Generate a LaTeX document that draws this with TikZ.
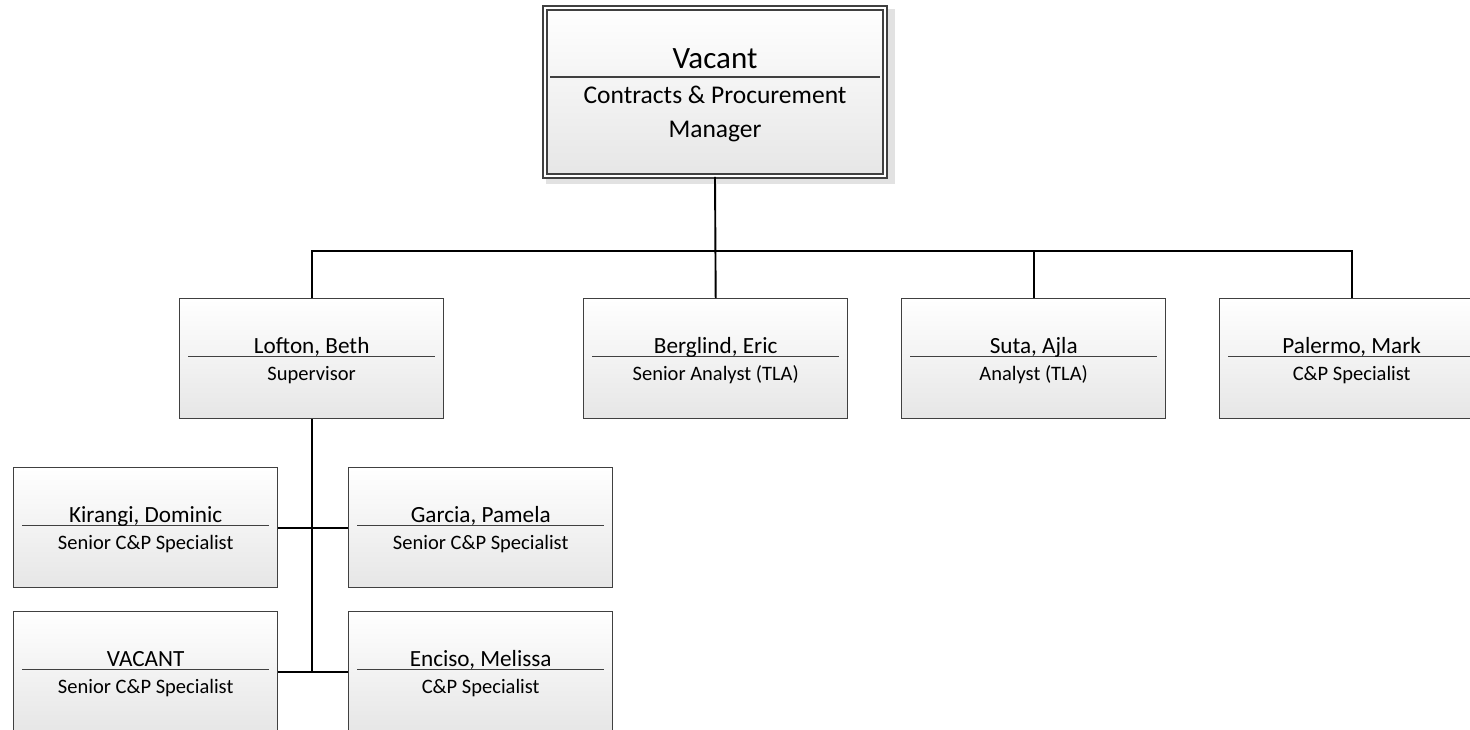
\documentclass[tikz,border=0pt]{standalone}
\usepackage{fontspec}
\setmainfont{Carlito}
\definecolor{boxline}{HTML}{404040}
\definecolor{boxbot}{HTML}{E6E6E6}
\definecolor{shadowc}{HTML}{E2E2E2}
\newcommand\orgperson[5]{%
  \node[orgbox] (#1) at (#2,#3) {};
  \draw[divider] ([xshift=9pt,yshift=2pt]#1.west) -- ([xshift=-9pt,yshift=2pt]#1.east);
  \node[pname] (#1-name) at ([yshift=5pt]#1.center) {#4};
  \node[prole] (#1-role) at ([yshift=-22pt]#1.center) {#5};
}
\begin{document}
\begin{tikzpicture}[x=1pt,y=-1pt,
  orgbox/.style={draw=boxline, line width=1.4pt, top color=white, bottom color=boxbot,
    minimum width=264pt, minimum height=120pt, inner sep=0pt, anchor=north west},
  conn/.style={line width=1.9pt, black},
  divider/.style={draw=boxline, line width=1.1pt},
  pname/.style={anchor=base, font=\fontsize{23.2}{25}\selectfont, inner sep=0pt},
  prole/.style={anchor=base, font=\fontsize{20.5}{22}\selectfont, inner sep=0pt},
  topname/.style={anchor=base, font=\fontsize{31}{33}\selectfont, inner sep=0pt},
  toprole/.style={anchor=base, font=\fontsize{25.5}{27}\selectfont, inner sep=0pt}]
\useasboundingbox (0,0) rectangle (1470,729);
\fill[white] (0,0) rectangle (1470,729);
\clip (0,0) rectangle (1470,729);
% top box shadow
\fill[shadowc] (546,9) rectangle (895,184);
\node[draw=boxline, line width=1.8pt, double=white, double distance=2.6pt,
  top color=white, bottom color=boxbot, minimum width=340pt, minimum height=168pt,
  inner sep=0pt] (top) at (715,92) {};
\draw[divider] ([xshift=6pt,yshift=15pt]top.west) -- ([xshift=-6pt,yshift=15pt]top.east);
\node[topname] (top-name) at ([yshift=24pt]top.center) {Vacant};
\node[toprole] (top-role1) at ([yshift=-11pt]top.center) {Contracts \& Procurement};
\node[toprole] (top-role2) at ([yshift=-45pt]top.center) {Manager};

\orgperson{lofton}{179}{298}{Lofton, Beth}{Supervisor}
\orgperson{berglind}{583}{298}{Berglind, Eric}{Senior Analyst (TLA)}
\orgperson{suta}{901}{298}{Suta, Ajla}{Analyst (TLA)}
\orgperson{palermo}{1219}{298}{Palermo, Mark}{C\&P Specialist}
\orgperson{kirangi}{13}{467}{Kirangi, Dominic}{Senior C\&P Specialist}
\orgperson{garcia}{348}{467}{Garcia, Pamela}{Senior C\&P Specialist}
\orgperson{vacant}{13}{611}{VACANT}{Senior C\&P Specialist}
\orgperson{enciso}{348}{611}{Enciso, Melissa}{C\&P Specialist}

\coordinate (bus) at (715,251);
\draw[conn] (top.south) -- (berglind.north);
\draw[conn] (lofton.north) -- (lofton.north |- bus) -- (palermo.north |- bus) -- (palermo.north);
\draw[conn] (suta.north) -- (suta.north |- bus);
\draw[conn] (lofton.south) -- (lofton.south |- vacant.east);
\draw[conn] (kirangi.east) -- (garcia.west);
\draw[conn] (vacant.east) -- (enciso.west);
\end{tikzpicture}
\end{document}
